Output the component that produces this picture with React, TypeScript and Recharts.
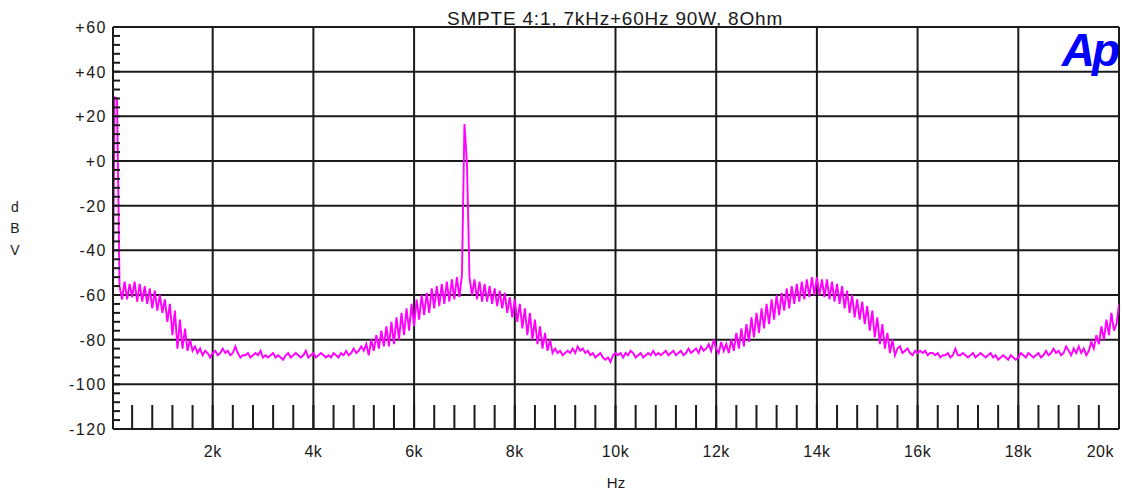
import React from 'react';
import { LineChart, Line, XAxis, YAxis, ReferenceLine } from 'recharts';

// FFT bin spacing of the analyzer sweep (Hz)
const BIN_HZ = 50;

// First point below the first bin
const edgeHz = [20];
const edgeDbv = [-60];

// 50 Hz – 2 kHz: 60 Hz tone and its sidebands
const bassStartHz = 50;
const bassDbv = [
  28.5, 28, -56, -62, -54, -62, -55, -61, -54, -63, -55, -63, -56, -64, -57, -66, -58, -67, -60, -68,
  -62, -72, -64, -78, -67, -84, -71, -84, -75, -85, -80, -85, -83, -86, -84, -87, -85, -86, -88, -86,
];

// 2.05 – 5 kHz: noise floor
const floorLowStartHz = 2050;
const floorLowDbv = [
  -85, -87, -86, -84, -86, -85, -87, -86, -83, -86, -88, -87, -87, -86, -88, -87, -86, -87, -85, -88,
  -87, -88, -87, -86, -88, -87, -88, -89, -87, -86, -88, -87, -86, -87, -88, -87, -85, -88, -87, -86,
  -88, -87, -86, -87, -88, -87, -88, -86, -87, -88, -86, -87, -85, -87, -86, -84, -86, -85, -83, -85,
];

// 5.05 – 9 kHz: 7 kHz carrier with IMD sidebands
const carrierStartHz = 5050;
const carrierDbv = [
  -82, -87, -80, -85, -78, -84, -76, -83, -74, -83, -72, -82, -70, -80, -68, -78, -66, -76, -64, -74,
  -62, -71, -60, -69, -59, -68, -57, -66, -56, -65, -55, -64, -54, -63, -53, -62, -52, -61, -51, 16.5,
  -1, -52, -60, -53, -62, -54, -63, -55, -63, -56, -64, -57, -65, -58, -66, -59, -68, -61, -70, -62,
  -72, -64, -75, -66, -78, -68, -80, -71, -82, -74, -84, -77, -85, -80, -86, -84, -86, -85, -87, -86,
];

// 9.05 – 12 kHz: noise floor
const floorMidStartHz = 9050;
const floorMidDbv = [
  -85, -86, -84, -86, -83, -85, -84, -86, -85, -87, -86, -88, -87, -86, -88, -89, -88, -90, -87, -86,
  -87, -86, -88, -86, -87, -85, -86, -88, -87, -86, -88, -87, -86, -87, -85, -87, -86, -87, -86, -85,
  -87, -86, -85, -87, -86, -85, -87, -86, -84, -86, -85, -84, -86, -83, -85, -84, -82, -85, -80, -84,
];

// 12.05 – 16 kHz: second harmonic with IMD sidebands
const harmonicStartHz = 12050;
const harmonicDbv = [
  -86, -81, -85, -82, -86, -80, -85, -77, -84, -75, -83, -73, -81, -70, -79, -68, -77, -66, -75, -64,
  -73, -62, -71, -60, -69, -59, -67, -57, -66, -56, -64, -55, -63, -54, -62, -53, -61, -52, -60, -52,
  -60, -53, -61, -53, -62, -54, -63, -55, -64, -56, -66, -58, -68, -60, -70, -62, -71, -63, -73, -65,
  -76, -67, -79, -70, -82, -73, -84, -77, -86, -80, -87, -84, -83, -86, -85, -84, -86, -87, -85, -86,
];

// 16.05 – 20 kHz: noise floor and upper band edge
const floorHighStartHz = 16050;
const floorHighDbv = [
  -85, -86, -85, -87, -86, -86, -87, -86, -88, -87, -87, -86, -88, -87, -84, -87, -87, -86, -87, -88,
  -87, -86, -88, -87, -86, -87, -88, -87, -86, -88, -87, -89, -88, -87, -88, -89, -87, -88, -89, -88,
  -86, -87, -88, -86, -87, -88, -87, -86, -88, -87, -85, -87, -86, -84, -86, -85, -87, -86, -83, -85,
  -87, -84, -86, -83, -86, -84, -87, -85, -81, -84, -78, -82, -74, -80, -71, -78, -68, -76, -73, -64,
];

// Axis ticks
const majorHz = [2000, 4000, 6000, 8000, 10000, 12000, 14000, 16000, 18000, 20000];
const majorDbv = [-120, -100, -80, -60, -40, -20, 0, 20, 40, 60];
const MINOR_HZ_STEP = 400;
const MINOR_DB_STEP = 4;

const segments = [
  { startHz: bassStartHz, dbv: bassDbv },
  { startHz: floorLowStartHz, dbv: floorLowDbv },
  { startHz: carrierStartHz, dbv: carrierDbv },
  { startHz: floorMidStartHz, dbv: floorMidDbv },
  { startHz: harmonicStartHz, dbv: harmonicDbv },
  { startHz: floorHighStartHz, dbv: floorHighDbv },
];

const spectrum = [
  ...edgeHz.map((hz, i) => ({ hz, dbv: edgeDbv[i] })),
  ...segments.flatMap((s) => s.dbv.map((dbv, i) => ({ hz: s.startHz + i * BIN_HZ, dbv }))),
];

const minorHzTicks: number[] = [];
for (let f = MINOR_HZ_STEP; f <= 20000; f += MINOR_HZ_STEP) minorHzTicks.push(f);
const minorDbTicks: number[] = [];
for (let d = -120; d <= 60; d += MINOR_DB_STEP) minorDbTicks.push(d);

const FONT = '"Liberation Sans", Arial, sans-serif';
const INK = '#1a1a1a';

const HzTick = (props: any) => {
  const { x, y, payload } = props;
  const v = payload.value;
  if (!majorHz.includes(v)) return <g />;
  const last = v === 20000;
  return (
    <text
      x={last ? x - 5 : x}
      y={y}
      textAnchor={last ? 'end' : 'middle'}
      fontFamily={FONT}
      fontSize={16}
      letterSpacing={0.5}
      fill={INK}
    >
      {`${v / 1000}k`}
    </text>
  );
};

const DbTick = (props: any) => {
  const { x, y, payload } = props;
  const v = payload.value;
  if (!majorDbv.includes(v)) return <g />;
  return (
    <text
      x={x}
      y={y + 6}
      textAnchor="end"
      fontFamily={FONT}
      fontSize={16}
      letterSpacing={1.5}
      fill={INK}
    >
      {v >= 0 ? `+${v}` : `${v}`}
    </text>
  );
};

export default function App() {
  return (
    <div style={{ position: 'absolute', left: 0, top: 0, width: 1123, height: 495, background: '#fff' }}>
      <LineChart
        width={1123}
        height={495}
        data={spectrum}
        margin={{ top: 27, right: 4, bottom: 0, left: 0 }}
      >
        <XAxis
          dataKey="hz"
          type="number"
          domain={[20, 20000]}
          allowDataOverflow
          ticks={minorHzTicks}
          interval={0}
          height={66}
          tickSize={-24}
          tickMargin={52}
          tick={<HzTick />}
          tickLine={{ stroke: INK, strokeWidth: 2 }}
          axisLine={{ stroke: INK, strokeWidth: 2 }}
        />
        <YAxis
          type="number"
          domain={[-120, 60]}
          allowDataOverflow
          ticks={minorDbTicks}
          interval={0}
          width={113}
          tickSize={-7}
          tickMargin={13}
          tick={<DbTick />}
          tickLine={{ stroke: INK, strokeWidth: 2 }}
          axisLine={{ stroke: INK, strokeWidth: 2 }}
        />
        {majorHz.map((f) => (
          <ReferenceLine key={`v${f}`} x={f} stroke={INK} strokeWidth={2} />
        ))}
        {majorDbv.map((d) => (
          <ReferenceLine key={`h${d}`} y={d} stroke={INK} strokeWidth={2} />
        ))}
        <Line
          dataKey="dbv"
          type="linear"
          stroke="#ff00ff"
          strokeWidth={1.9}
          dot={false}
          isAnimationActive={false}
        />
      </LineChart>
      <svg
        width={1123}
        height={495}
        style={{ position: 'absolute', left: 0, top: 0, pointerEvents: 'none' }}
      >
        <text x={615} y={25} textAnchor="middle" fontFamily={FONT} fontSize={19} letterSpacing={0.8} fill={INK}>
          SMPTE 4:1, 7kHz+60Hz 90W, 8Ohm
        </text>
        <text
          x={1117}
          y={66}
          textAnchor="end"
          fontFamily={FONT}
          fontSize={46}
          fontWeight="bold"
          fontStyle="italic"
          letterSpacing={-3}
          fill="#0000ff"
        >
          Ap
        </text>
        <text x={15} y={212} textAnchor="middle" fontFamily={FONT} fontSize={14} fill={INK}>d</text>
        <text x={15} y={233} textAnchor="middle" fontFamily={FONT} fontSize={14} fill={INK}>B</text>
        <text x={15} y={255} textAnchor="middle" fontFamily={FONT} fontSize={14} fill={INK}>V</text>
        <text x={616} y={488} textAnchor="middle" fontFamily={FONT} fontSize={15} fill={INK}>Hz</text>
      </svg>
    </div>
  );
}
